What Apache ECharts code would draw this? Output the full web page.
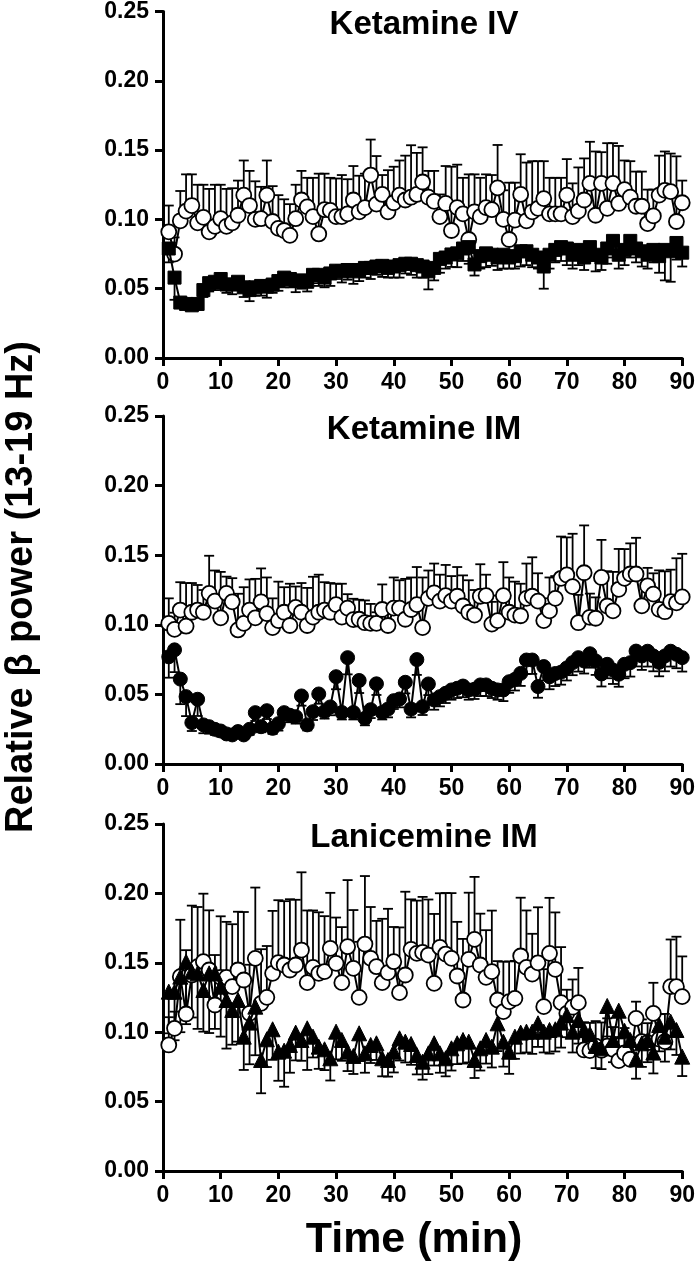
<!DOCTYPE html>
<html><head><meta charset="utf-8">
<script src="https://cdn.jsdelivr.net/npm/echarts@6/dist/echarts.min.js"></script>
<style>html,body{margin:0;padding:0;background:#fff}#c{width:698px;height:1268px}</style>
</head><body><div id="c"></div>
<script>
const minutes = [1,2,3,4,5,6,7,8,9,10,11,12,13,14,15,16,17,18,19,20,21,22,23,24,25,26,27,28,29,30,
31,32,33,34,35,36,37,38,39,40,41,42,43,44,45,46,47,48,49,50,51,52,53,54,55,56,57,58,59,60,
61,62,63,64,65,66,67,68,69,70,71,72,73,74,75,76,77,78,79,80,81,82,83,84,85,86,87,88,89,90];
const xTicks = [0,10,20,30,40,50,60,70,80,90];
const yTicks = ['0.00','0.05','0.10','0.15','0.20','0.25'];
const panelTitles = ['Ketamine IV','Ketamine IM','Lanicemine IM'];

// Panel 1: Ketamine IV
const ivSaline = [0.091,0.075,0.099,0.106,0.110,0.0975,0.1015,0.091,0.095,0.1005,
0.095,0.0975,0.103,0.1175,0.110,0.100,0.1005,0.1175,0.0985,0.0935,
0.092,0.0885,0.1005,0.114,0.109,0.102,0.0895,0.107,0.1065,0.102,
0.102,0.104,0.114,0.1055,0.1085,0.132,0.111,0.118,0.1055,0.112,
0.1175,0.114,0.116,0.118,0.127,0.116,0.113,0.102,0.1115,0.092,
0.1085,0.104,0.0855,0.1055,0.102,0.1085,0.107,0.1227,0.100,0.0855,
0.0995,0.118,0.099,0.1055,0.108,0.115,0.104,0.104,0.104,0.1175,
0.102,0.106,0.114,0.126,0.103,0.126,0.108,0.126,0.1115,0.1215,
0.116,0.1095,0.1095,0.097,0.1025,0.1175,0.121,0.120,0.0985,0.112];
const ivSalineSem = [0.019,0.012,0.0215,0.0265,0.0225,0.0275,0.0235,0.031,0.03,0.0245,
0.027,0.025,0.025,0.025,0.025,0.0275,0.023,0.025,0.0255,0.024,
0.0225,0.0225,0.0245,0.021,0.021,0.028,0.0435,0.026,0.0235,0.0275,
0.03,0.025,0.0245,0.026,0.0245,0.0256,0.0347,0.014,0.03,0.026,
0.025,0.032,0.0375,0.03,0.025,0.019,0.022,0.016,0.027,0.046,
0.031,0.026,0.047,0.027,0.028,0.024,0.025,0.031,0.021,0.041,
0.027,0.029,0.042,0.0365,0.034,0.027,0.026,0.026,0.026,0.026,
0.024,0.0315,0.03,0.030,0.046,0.0225,0.047,0.029,0.0415,0.021,
0.026,0.025,0.025,0.0245,0.019,0.0285,0.028,0.0275,0.047,0.016];
const ivKetamine = [0.079,0.058,0.040,0.039,0.038,0.039,0.049,0.054,0.055,0.057,
0.053,0.053,0.055,0.051,0.049,0.051,0.052,0.0515,0.053,0.0555,
0.058,0.057,0.0555,0.056,0.055,0.060,0.060,0.058,0.061,0.063,
0.0625,0.0635,0.0625,0.0635,0.065,0.065,0.066,0.0665,0.065,0.066,
0.067,0.068,0.068,0.067,0.066,0.0625,0.065,0.0715,0.0725,0.0747,
0.0755,0.079,0.080,0.0675,0.0735,0.0755,0.0745,0.0725,0.0745,0.0725,
0.0735,0.077,0.077,0.0745,0.0725,0.066,0.0745,0.078,0.080,0.079,
0.0745,0.078,0.0725,0.080,0.0745,0.0725,0.079,0.0845,0.0745,0.078,
0.0845,0.079,0.077,0.0745,0.078,0.0735,0.078,0.077,0.083,0.076];
const ivKetamineSem = [0.010,0.016,0.004,0.003,0.003,0.004,0.005,0.006,0.006,0.007,
0.006,0.007,0.006,0.007,0.008,0.006,0.007,0.008,0.006,0.007,
0.007,0.006,0.008,0.006,0.007,0.006,0.008,0.007,0.009,0.006,
0.008,0.007,0.009,0.008,0.007,0.008,0.006,0.008,0.007,0.008,
0.009,0.007,0.008,0.009,0.008,0.013,0.009,0.010,0.008,0.009,
0.010,0.009,0.012,0.008,0.009,0.010,0.008,0.009,0.010,0.008,
0.009,0.011,0.010,0.009,0.008,0.016,0.010,0.009,0.010,0.012,
0.010,0.011,0.009,0.010,0.012,0.009,0.011,0.012,0.010,0.011,
0.012,0.010,0.011,0.010,0.009,0.012,0.022,0.022,0.012,0.010];

// Panel 2: Ketamine IM
const imSaline = [0.101,0.0967,0.1106,0.099,0.109,0.1106,0.109,0.1226,0.117,0.105,
0.1226,0.1165,0.0963,0.101,0.1106,0.105,0.1165,0.108,0.098,0.103,
0.109,0.0995,0.1125,0.109,0.0995,0.1055,0.109,0.1106,0.109,0.1145,
0.1055,0.112,0.1037,0.104,0.1015,0.101,0.101,0.111,0.0995,0.112,
0.112,0.104,0.111,0.1145,0.098,0.119,0.123,0.117,0.121,0.117,
0.1205,0.1135,0.109,0.107,0.1205,0.121,0.1005,0.103,0.121,0.109,
0.107,0.1065,0.119,0.1205,0.117,0.103,0.110,0.119,0.1334,0.1358,
0.1274,0.1015,0.1374,0.1054,0.1047,0.134,0.1135,0.110,0.1255,0.1334,
0.1365,0.1365,0.1136,0.1279,0.122,0.1111,0.1094,0.1166,0.1158,0.120];
const imSalineSem = [0.018,0.012,0.020,0.031,0.021,0.018,0.016,0.027,0.022,0.033,
0.012,0.017,0.026,0.026,0.022,0.028,0.024,0.026,0.021,0.028,
0.018,0.030,0.015,0.021,0.027,0.029,0.027,0.020,0.021,0.015,
0.024,0.010,0.015,0.014,0.016,0.014,0.008,0.018,0.015,0.022,
0.020,0.029,0.023,0.027,0.036,0.020,0.021,0.019,0.022,0.018,
0.021,0.022,0.023,0.018,0.023,0.015,0.016,0.018,0.024,0.025,
0.024,0.023,0.025,0.028,0.020,0.016,0.024,0.016,0.030,0.027,
0.038,0.020,0.034,0.017,0.015,0.027,0.025,0.028,0.029,0.021,
0.022,0.026,0.019,0.013,0.015,0.028,0.029,0.023,0.032,0.031];
const imKetamine = [0.077,0.082,0.061,0.0484,0.0297,0.0465,0.0281,0.0268,0.0249,0.0237,
0.0216,0.0209,0.0233,0.0209,0.0249,0.0369,0.0268,0.0383,0.0256,0.029,
0.0369,0.035,0.034,0.0489,0.0281,0.0376,0.0503,0.0376,0.041,0.0627,
0.037,0.0764,0.037,0.060,0.0328,0.039,0.0576,0.037,0.0395,0.0455,
0.0467,0.0587,0.0395,0.075,0.0412,0.0575,0.046,0.0484,0.0508,0.0532,
0.0544,0.056,0.0532,0.0537,0.0568,0.0568,0.0544,0.0532,0.0532,0.0591,
0.0608,0.0651,0.0747,0.0747,0.0556,0.070,0.0627,0.065,0.066,0.069,
0.0728,0.0764,0.074,0.0792,0.074,0.0647,0.0716,0.0675,0.0645,0.0716,
0.0728,0.0811,0.0776,0.081,0.0776,0.073,0.0776,0.081,0.0788,0.0764];
const imKetamineSem = [0.015,0.016,0.018,0.014,0.006,0.012,0.006,0.005,0.004,0.004,
0.003,0.003,0.004,0.003,0.004,0.006,0.004,0.006,0.004,0.005,
0.005,0.005,0.005,0.007,0.004,0.006,0.007,0.005,0.006,0.009,
0.005,0.012,0.005,0.009,0.005,0.006,0.008,0.005,0.006,0.006,
0.006,0.008,0.006,0.011,0.006,0.008,0.007,0.007,0.007,0.007,
0.007,0.008,0.007,0.007,0.008,0.008,0.007,0.007,0.008,0.008,
0.008,0.009,0.010,0.010,0.008,0.010,0.009,0.009,0.009,0.009,
0.009,0.010,0.009,0.010,0.010,0.009,0.010,0.010,0.009,0.010,
0.010,0.011,0.010,0.011,0.011,0.010,0.011,0.011,0.010,0.010];

// Panel 3: Lanicemine IM
const lanSaline = [0.0908,0.1028,0.140,0.1131,0.1412,0.1472,0.1508,0.1448,0.1196,0.1395,
0.1395,0.1328,0.1448,0.1376,0.1136,0.1532,0.1208,0.1251,0.1424,0.1501,
0.1484,0.1448,0.1484,0.1592,0.1357,0.1467,0.1424,0.1436,0.1604,0.1496,
0.1357,0.1616,0.146,0.1251,0.1635,0.1532,0.1472,0.1357,0.1429,0.1508,
0.1285,0.1412,0.1597,0.1568,0.1575,0.1556,0.1352,0.1611,0.1563,0.1532,
0.1405,0.1232,0.1525,0.1669,0.1484,0.1395,0.1436,0.1232,0.1148,0.122,
0.1244,0.1549,0.1467,0.1419,0.150,0.1184,0.1568,0.1453,0.1213,0.1136,
0.118,0.1213,0.0872,0.0867,0.090,0.087,0.090,0.0877,0.0795,0.085,
0.0805,0.110,0.0932,0.0925,0.1136,0.095,0.0932,0.1328,0.1328,0.1256];
const lanSalineSem = [0.020,0.012,0.041,0.046,0.050,0.043,0.049,0.043,0.036,0.044,
0.040,0.045,0.042,0.049,0.035,0.051,0.039,0.037,0.045,0.045,
0.046,0.051,0.047,0.056,0.052,0.041,0.044,0.040,0.040,0.033,
0.040,0.048,0.042,0.040,0.049,0.037,0.033,0.046,0.046,0.025,
0.047,0.060,0.036,0.038,0.040,0.040,0.050,0.039,0.044,0.047,
0.039,0.044,0.048,0.045,0.037,0.034,0.044,0.028,0.036,0.029,
0.027,0.042,0.041,0.029,0.040,0.027,0.040,0.041,0.040,0.017,
0.020,0.025,0.020,0.020,0.018,0.020,0.020,0.016,0.017,0.018,
0.016,0.012,0.016,0.014,0.022,0.018,0.020,0.034,0.036,0.029];
const lanDrug = [0.1292,0.1292,0.140,0.1508,0.1436,0.1424,0.1304,0.1424,0.1424,0.1328,
0.1232,0.116,0.1232,0.0968,0.1069,0.1184,0.080,0.0949,0.1021,0.086,
0.0867,0.0908,0.0997,0.0944,0.1028,0.0968,0.0896,0.0877,0.0812,0.1004,
0.0944,0.086,0.0829,0.0992,0.0848,0.0908,0.092,0.0812,0.080,0.086,
0.0956,0.0932,0.0915,0.0836,0.0788,0.0848,0.092,0.0848,0.0812,0.0884,
0.092,0.0944,0.0932,0.080,0.0884,0.0944,0.0896,0.1064,0.0932,0.086,
0.0968,0.0997,0.1004,0.1004,0.1064,0.1004,0.1016,0.1021,0.1069,0.1124,
0.1004,0.1088,0.1016,0.0987,0.0901,0.0884,0.1189,0.0944,0.1155,0.101,
0.0944,0.0805,0.092,0.0944,0.0853,0.1052,0.0968,0.1076,0.1016,0.0824];
const lanDrugSem = [0.030,0.035,0.040,0.045,0.033,0.040,0.030,0.043,0.040,0.036,
0.035,0.025,0.030,0.024,0.030,0.035,0.024,0.020,0.022,0.021,
0.026,0.020,0.020,0.015,0.030,0.015,0.016,0.015,0.016,0.020,
0.015,0.014,0.013,0.020,0.014,0.013,0.012,0.013,0.012,0.015,
0.016,0.015,0.015,0.014,0.013,0.015,0.016,0.014,0.013,0.016,
0.015,0.017,0.015,0.013,0.016,0.017,0.015,0.020,0.018,0.016,
0.016,0.015,0.015,0.016,0.017,0.015,0.017,0.016,0.018,0.016,
0.015,0.017,0.016,0.015,0.016,0.015,0.022,0.016,0.020,0.016,
0.017,0.014,0.017,0.016,0.015,0.019,0.018,0.020,0.018,0.014];

const FONT = '"Liberation Sans", Arial, sans-serif';
const panels = [
  {top: 11, height: 347, title: panelTitles[0], ctrl: ivSaline, ctrlSem: ivSalineSem, drug: ivKetamine, drugSem: ivKetamineSem, symbol: 'rect', symSize: 13},
  {top: 416, height: 348, title: panelTitles[1], ctrl: imSaline, ctrlSem: imSalineSem, drug: imKetamine, drugSem: imKetamineSem, symbol: 'circle', symSize: 14},
  {top: 824, height: 347, title: panelTitles[2], ctrl: lanSaline, ctrlSem: lanSalineSem, drug: lanDrug, drugSem: lanDrugSem, symbol: 'triangle', symSize: 15}
];
const GL = 163, GW = 522;

function errBars(vals, sems, dir) {
  return minutes.map((m, i) => [m, vals[i], sems[i], dir]);
}
function renderErr(params, api) {
  const x = api.value(0), y = api.value(1), e = api.value(2), d = api.value(3);
  const p0 = api.coord([x, y]);
  const p1 = api.coord([x, y + d * e]);
  const cap = 5;
  const st = {stroke: '#000', lineWidth: 1.8, fill: null};
  return {type: 'group', children: [
    {type: 'line', shape: {x1: p0[0], y1: p0[1], x2: p1[0], y2: p1[1]}, style: st},
    {type: 'line', shape: {x1: p1[0] - cap, y1: p1[1], x2: p1[0] + cap, y2: p1[1]}, style: st}
  ]};
}

const grid = [], xAxis = [], yAxis = [], series = [], graphic = [];
panels.forEach((p, i) => {
  grid.push({left: GL, width: GW, top: p.top, height: p.height, containLabel: false});
  xAxis.push({gridIndex: i, type: 'value', min: xTicks[0], max: xTicks[xTicks.length - 1], interval: 10,
    axisLine: {show: true, onZero: false, lineStyle: {color: '#000', width: 3}},
    axisTick: {show: true, length: 8, lineStyle: {color: '#000', width: 3}},
    axisLabel: {color: '#000', fontSize: 23, fontWeight: 'bold', fontFamily: FONT, margin: 13},
    splitLine: {show: false}
  });
  yAxis.push({gridIndex: i, type: 'value', min: 0, max: 0.25, interval: 0.05,
    axisLine: {show: true, onZero: false, lineStyle: {color: '#000', width: 3}},
    axisTick: {show: true, length: 8, lineStyle: {color: '#000', width: 3}},
    axisLabel: {color: '#000', fontSize: 23, fontWeight: 'bold', fontFamily: FONT, margin: 14,
      formatter: v => yTicks[Math.round(v / 0.05)]},
    splitLine: {show: false}
  });
  series.push({type: 'custom', xAxisIndex: i, yAxisIndex: i, z: 1, renderItem: renderErr,
    data: errBars(p.ctrl, p.ctrlSem, 1), silent: true, clip: false});
  series.push({type: 'custom', xAxisIndex: i, yAxisIndex: i, z: 1, renderItem: renderErr,
    data: errBars(p.drug, p.drugSem, -1), silent: true, clip: false});
  series.push({type: 'line', xAxisIndex: i, yAxisIndex: i, z: 3,
    data: minutes.map((m, k) => [m, p.ctrl[k]]),
    symbol: 'circle', symbolSize: 15, showAllSymbol: true,
    lineStyle: {color: '#000', width: 2},
    itemStyle: {color: '#fff', borderColor: '#000', borderWidth: 1.8}
  });
  series.push({type: 'line', xAxisIndex: i, yAxisIndex: i, z: 4,
    data: minutes.map((m, k) => [m, p.drug[k]]),
    symbol: p.symbol, symbolSize: p.symSize, showAllSymbol: true,
    lineStyle: {color: '#000', width: 2},
    itemStyle: {color: '#000', borderColor: '#000', borderWidth: 1}
  });
  graphic.push({type: 'text', x: GL + GW / 2, y: p.top + 14, z: 10,
    style: {text: p.title, align: 'center', verticalAlign: 'middle', fill: '#000',
      fontSize: 33, fontWeight: 'bold', fontFamily: FONT}});
});
graphic.push({type: 'text', x: 22, y: 587, rotation: Math.PI / 2,
  style: {text: 'Relative β power (13-19 Hz)', align: 'center', verticalAlign: 'middle', fill: '#000',
    fontSize: 38, fontWeight: 'bold', fontFamily: FONT}});
graphic.push({type: 'text', x: GL + GW / 2 - 10, y: 1240,
  style: {text: 'Time (min)', align: 'center', verticalAlign: 'middle', fill: '#000',
    fontSize: 43, fontWeight: 'bold', fontFamily: FONT}});

const chart = echarts.init(document.getElementById('c'), null, {renderer: 'canvas'});
chart.setOption({animation: false, backgroundColor: '#fff', grid, xAxis, yAxis, series, graphic});
</script></body></html>
